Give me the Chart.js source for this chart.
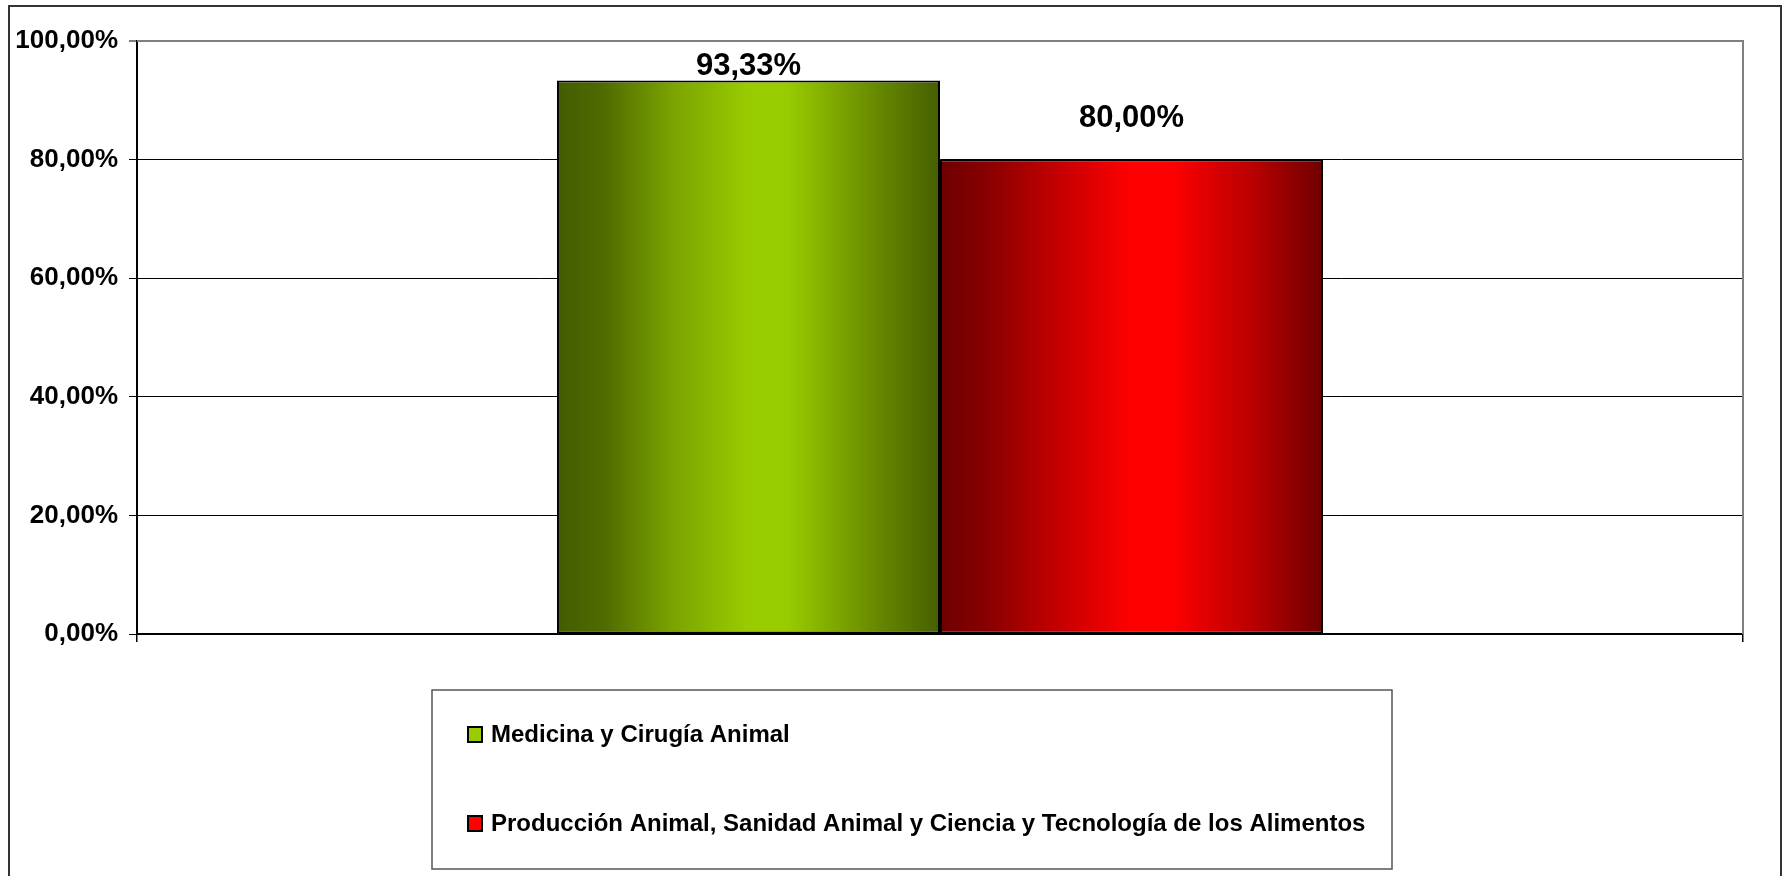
<!DOCTYPE html>
<html>
<head>
<meta charset="utf-8">
<script src="https://cdn.jsdelivr.net/npm/chart.js@4/dist/chart.umd.min.js"></script>
<style>
  html, body { margin: 0; padding: 0; background: #fff; }
  #wrap { width: 1791px; height: 876px; }
</style>
</head>
<body>
<div id="wrap"><canvas id="myChart"></canvas></div>
<script>
// data
const categories = [''];
const seriesNames = ['Medicina y Cirugía Animal', 'Producción Animal, Sanidad Animal y Ciencia y Tecnología de los Alimentos'];
const medicinaValues = [93.33];
const produccionValues = [80.00];
const yTicks = [0, 20, 40, 60, 80, 100];

const FONT = '"Liberation Sans", Arial, sans-serif';
const GROUP = 0.477;

// horizontal shading stops for each bar
const shades = [
    [[0, '#445c00'], [0.12, '#4f6a00'], [0.3, '#7aa300'], [0.5, '#99cc00'], [0.6, '#99cc00'], [0.82, '#6a8d00'], [1, '#455f00']],
    [[0, '#6e0000'], [0.12, '#880000'], [0.3, '#c20000'], [0.5, '#ff0000'], [0.6, '#ff0000'], [0.82, '#b80000'], [1, '#700000']]
];
const flatColors = ['#99cc00', '#ff0000'];

function fmt(v) {
    return v.toFixed(2).replace('.', ',') + '%';
}

function shade(ctx) {
    const chart = ctx.chart;
    const xs = chart.scales.x;
    if (!chart.chartArea || !xs) return flatColors[ctx.datasetIndex];
    const catW = xs.width / categories.length;
    const groupW = catW * GROUP;
    const barW = groupW / 2;
    const left = xs.getPixelForValue(ctx.dataIndex) - groupW / 2 + ctx.datasetIndex * barW;
    const g = chart.ctx.createLinearGradient(left, 0, left + barW, 0);
    shades[ctx.datasetIndex].forEach(s => g.addColorStop(s[0], s[1]));
    return g;
}

const frame = {
    id: 'frame',
    beforeDraw(chart) {
        const c = chart.ctx;
        c.save();
        c.fillStyle = '#fff';
        c.fillRect(0, 0, chart.width, chart.height);
        c.strokeStyle = '#333';
        c.lineWidth = 2;
        c.strokeRect(9, 6, chart.width - 19, chart.height + 20);
        c.restore();
    },
    beforeDatasetsDraw(chart) {
        const a = chart.chartArea;
        const c = chart.ctx;
        c.save();
        c.strokeStyle = '#808080';
        c.lineWidth = 2;
        c.beginPath();
        c.moveTo(a.left, a.top);
        c.lineTo(a.right, a.top);
        c.lineTo(a.right, a.bottom);
        c.stroke();
        c.restore();
    },
    afterDatasetsDraw(chart) {
        const a = chart.chartArea;
        const c = chart.ctx;
        c.save();
        c.font = 'bold 31px ' + FONT;
        c.fillStyle = '#000';
        c.textAlign = 'center';
        c.textBaseline = 'alphabetic';
        chart.data.datasets.forEach((ds, i) => {
            chart.getDatasetMeta(i).data.forEach((el, j) => {
                const y = Math.max(el.y - 33, a.top + 34);
                c.fillText(fmt(ds.data[j]), el.x, y);
            });
        });
        c.restore();
    },
    afterDraw(chart) {
        // boxed legend under the plot
        const c = chart.ctx;
        c.save();
        c.strokeStyle = '#555';
        c.lineWidth = 1.5;
        c.strokeRect(432, 690, 960, 179);
        c.font = 'bold 24px ' + FONT;
        c.textBaseline = 'alphabetic';
        c.fillStyle = '#000';
        const rows = [742, 831];
        chart.data.datasets.forEach((ds, i) => {
            const y = rows[i];
            c.fillStyle = flatColors[i];
            c.fillRect(468, y - 15, 14, 15);
            c.strokeStyle = '#000';
            c.lineWidth = 2;
            c.strokeRect(468, y - 15, 14, 15);
            c.fillStyle = '#000';
            c.fillText(ds.label, 491, y);
        });
        c.restore();
    }
};

new Chart(document.getElementById('myChart'), {
    type: 'bar',
    data: {
        labels: categories,
        datasets: [
            { label: seriesNames[0], data: medicinaValues, backgroundColor: shade, borderColor: '#000', borderWidth: 2, borderSkipped: false },
            { label: seriesNames[1], data: produccionValues, backgroundColor: shade, borderColor: '#000', borderWidth: 2, borderSkipped: false }
        ]
    },
    options: {
        responsive: true,
        maintainAspectRatio: false,
        animation: false,
        devicePixelRatio: 1,
        layout: { padding: { left: 0, top: 41, right: 48, bottom: 232 } },
        datasets: { bar: { categoryPercentage: GROUP, barPercentage: 1 } },
        plugins: {
            legend: { display: false },
            tooltip: { enabled: false }
        },
        scales: {
            x: {
                afterFit: (s) => { s.height = 10; },
                ticks: { display: false },
                grid: { display: true, drawOnChartArea: false, tickLength: 8, color: '#000', lineWidth: 1.5 },
                border: { color: '#000', width: 2 }
            },
            y: {
                min: 0,
                max: 100,
                afterFit: (s) => { s.width = 137; },
                afterBuildTicks: (s) => { s.ticks = yTicks.map(v => ({ value: v })); },
                ticks: {
                    padding: 11,
                    color: '#000',
                    font: { family: FONT, size: 26, weight: 'bold' },
                    callback: (v) => fmt(v)
                },
                grid: {
                    tickLength: 8,
                    color: (ctx) => ctx.tick && ctx.tick.value === 100 ? '#808080' : '#000',
                    lineWidth: (ctx) => ctx.tick && ctx.tick.value === 100 ? 2 : 1
                },
                border: { color: '#000', width: 2 }
            }
        }
    },
    plugins: [frame]
});
</script>
</body>
</html>
